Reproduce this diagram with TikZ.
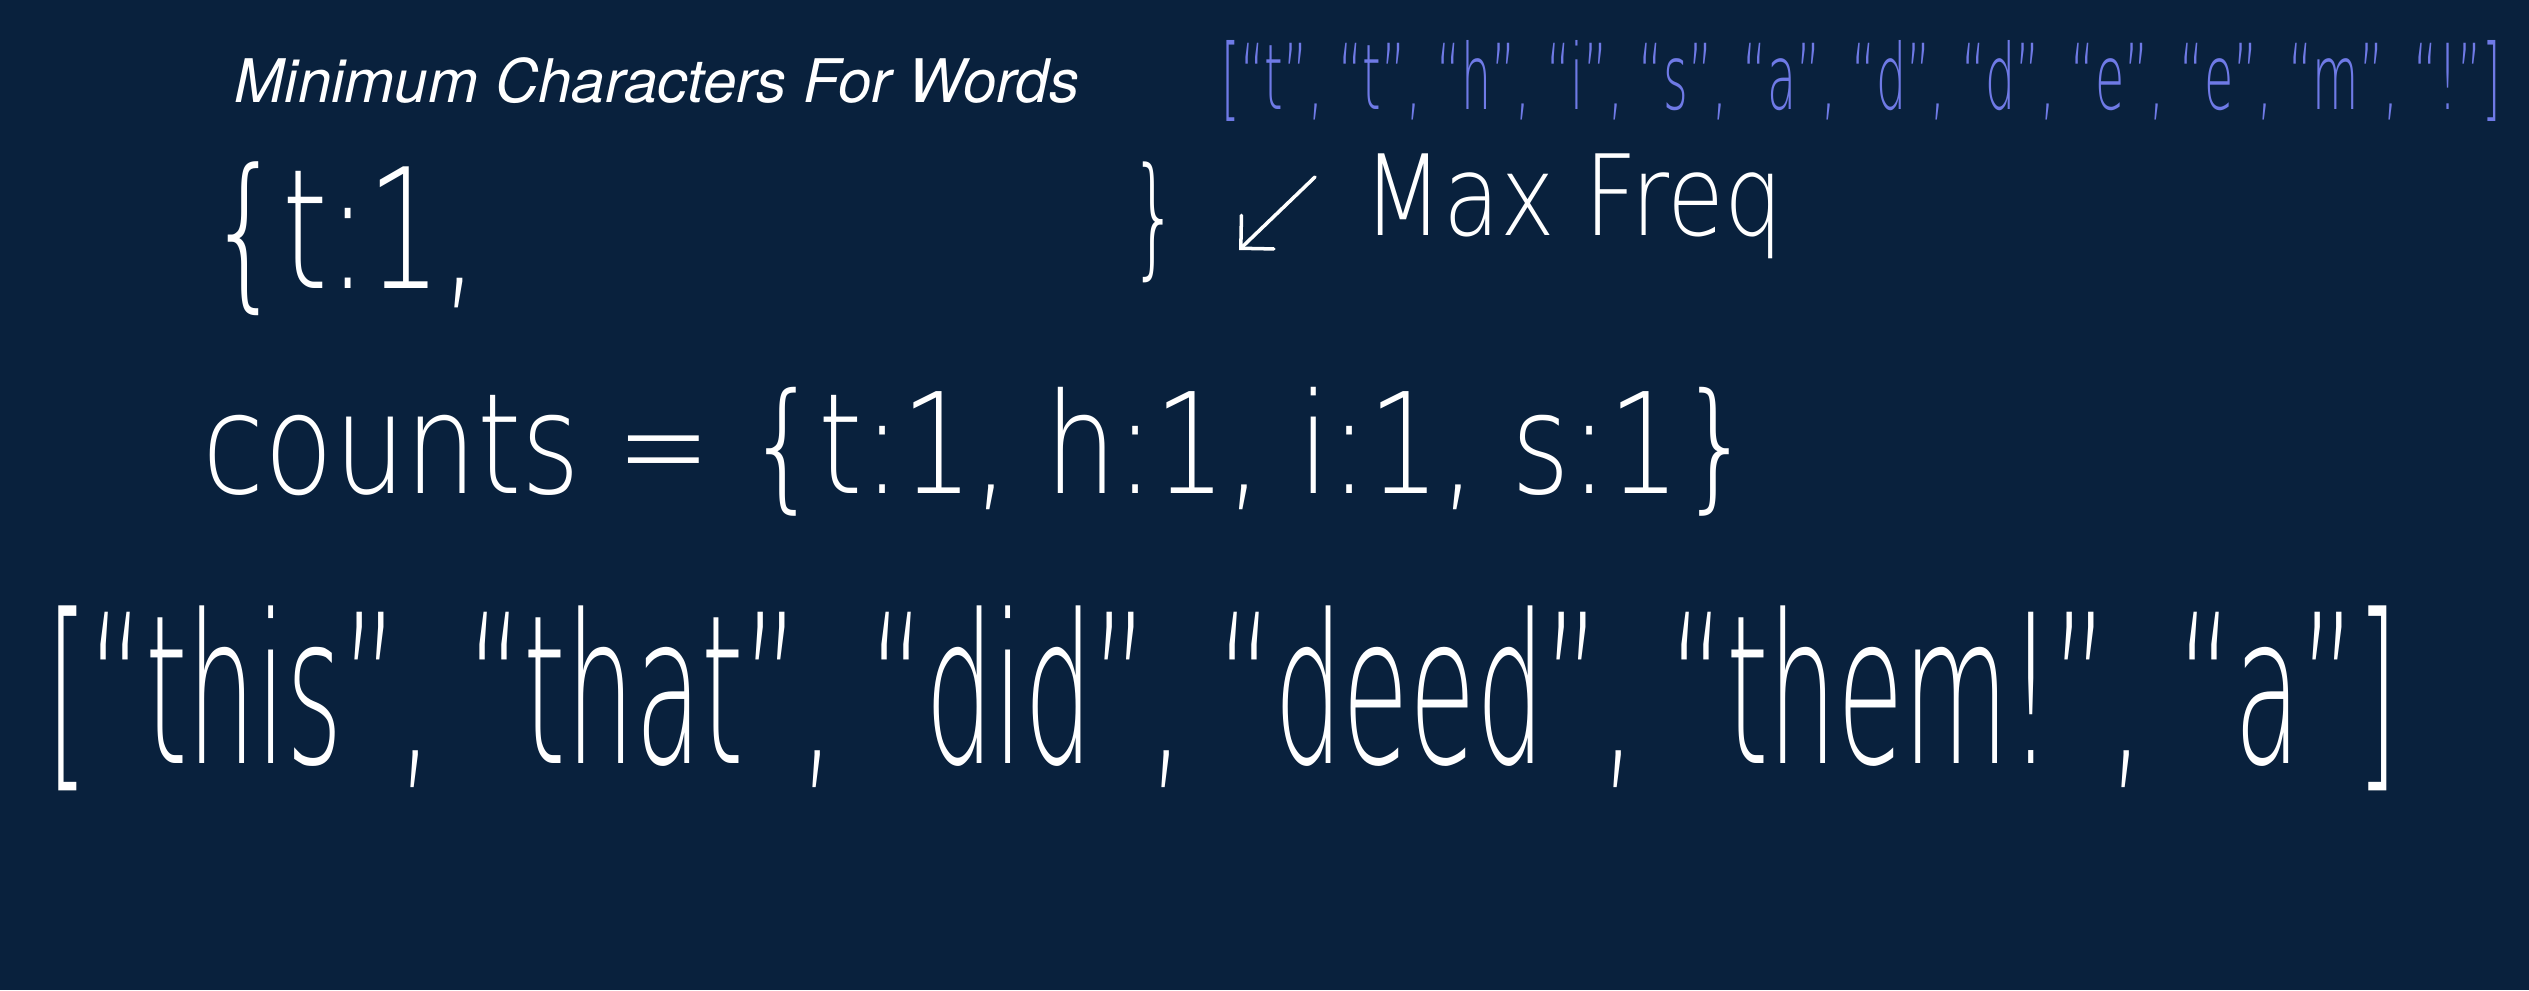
\documentclass[tikz,border=0pt]{standalone}
\usepackage{graphicx}
\usepackage{fontspec}
\usetikzlibrary{positioning,arrows.meta}
\newfontfamily\titlefont{TeX Gyre Heros}
\IfFontExistsTF{DejaVu Sans ExtraLight}
  {\newfontfamily\handfont{DejaVu Sans ExtraLight}}
  {\IfFontExistsTF{Open Sans Light}
    {\newfontfamily\handfont{Open Sans Light}}
    {\newfontfamily\handfont{Fira Sans}}}
\definecolor{board}{HTML}{09213D}
\definecolor{listblue}{HTML}{6F7AE6}
\newcommand{\hw}[3]{\resizebox*{#1}{#2}{#3}}

\begin{document}
\begin{tikzpicture}[every node/.style={inner sep=0pt},
  hand/.style={text=white, font=\handfont, anchor=north west},
  bluehand/.style={hand, text=listblue},
  freqarrow/.style={white, line width=1pt, line cap=round, -{Straight Barb[angle=90:0.33cm, line cap=round]}}]
% --- board ---
\fill[board] (0,0) rectangle (25.29,-9.90);
\useasboundingbox (0,0) rectangle (25.29,-9.90);
% --- title and letters ---
\node[text=white, font=\titlefont\itshape\fontsize{17.1}{20}\selectfont, anchor=base west] (title) at (2.34,-1.02) {Minimum Characters For Words};
\node[bluehand] (letters) at (12.21,-0.40) {\hw{12.79cm}{0.81cm}{[“t”, “t”, “h”, “i”, “s”, “a”, “d”, “d”, “e”, “e”, “m”, “!”]}};
% --- max freq ---
\node[hand] (open) at (2.08,-1.61) {\hw{2.70cm}{1.54cm}{\{t:1,}};
\node[hand] (close) at (11.30,-1.61) {\hw{0.48cm}{1.21cm}{\}}};
\node[hand] (maxfreq) at (13.63,-1.53) {\hw{4.19cm}{1.05cm}{Max Freq}};
\coordinate (tail) at (13.15,-1.77);
\coordinate (tip) at (12.39,-2.50);
\draw[freqarrow] (tail) -- (tip);
% --- counts ---
\node[hand] (counts) at (2.02,-3.87) {\hw{15.50cm}{1.29cm}{counts = \{t:1, h:1, i:1, s:1\}}};
% --- words ---
\node[hand] (words) at (0.46,-6.05) {\hw{23.52cm}{1.85cm}{[“this”, “that”, “did”, “deed”, “them!”, “a”]}};
\end{tikzpicture}
\end{document}
